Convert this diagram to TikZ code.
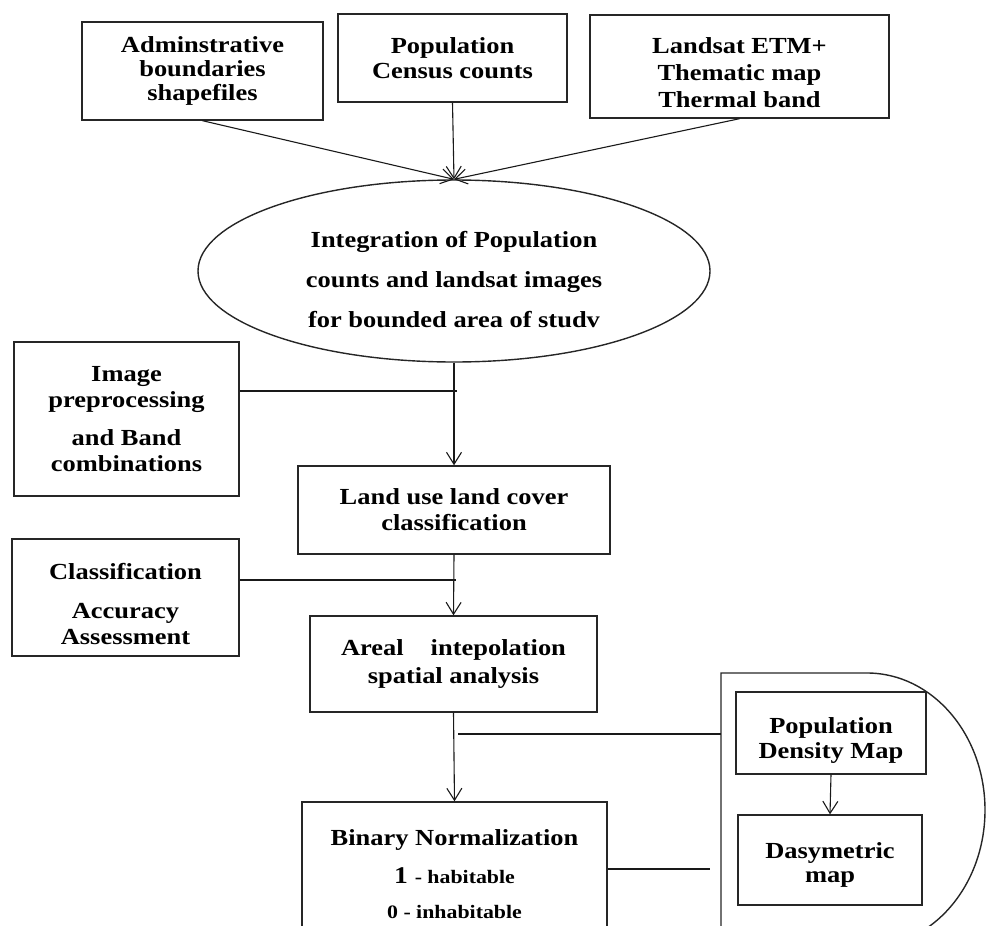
\documentclass[tikz,border=0pt]{standalone}
\usepackage{fontspec}
\setmainfont{Liberation Serif}[FakeStretch=1.15]
\usetikzlibrary{shapes.geometric,arrows.meta}
\newcommand{\hstrut}[1]{\rule{0pt}{#1pt}}
\begin{document}
\begin{tikzpicture}[x=1pt,y=-1pt,
  box/.style={draw=black!85, line width=1.4pt, rectangle, align=center, inner sep=0pt, font=\bfseries\fontsize{23}{25}\selectfont},
  oval/.style={draw=black!85, line width=1.4pt, ellipse, align=center, inner sep=0pt, font=\bfseries\fontsize{23}{40}\selectfont},
  conn/.style={draw=black!90, line width=1.1pt},
  arr/.style={conn, -{Straight Barb[length=12pt,width=15pt]}}]
\useasboundingbox (0,0) rectangle (986,926);
\clip (0,0) rectangle (986,926);

% top row
\node[box, minimum width=241pt, minimum height=98pt, font=\bfseries\fontsize{23}{24}\selectfont] (admin) at (202.5,71) {Adminstrative\\boundaries\\shapefiles};
\node[box, minimum width=229pt, minimum height=88pt] (census) at (452.5,58) {Population\\Census counts};
\node[box, minimum width=299pt, minimum height=103pt, font=\bfseries\fontsize{23}{27}\selectfont] (landsat) at (739.5,66.5) {\hstrut{28}Landsat ETM+\\Thematic map\\Thermal band};

% ellipse
\node[oval, minimum width=512pt, minimum height=182pt] (integ) at (454,271) {\hstrut{33}Integration of Population\\counts and landsat images\\for bounded area of studv};

% side and main boxes
\node[box, minimum width=225pt, minimum height=154pt, font=\bfseries\fontsize{23}{26}\selectfont] (prep) at (126.5,419) {Image\\preprocessing\\[12pt]and Band\\combinations};
\node[box, minimum width=312pt, minimum height=88pt, font=\bfseries\fontsize{23}{26}\selectfont] (landuse) at (454,510) {Land use land cover\\classification};
\node[box, minimum width=227pt, minimum height=117pt, font=\bfseries\fontsize{23}{26}\selectfont] (classif) at (125.5,597.5) {\hstrut{30}Classification\\[13pt]Accuracy\\Assessment};
\node[box, minimum width=287pt, minimum height=96pt, font=\bfseries\fontsize{23}{28}\selectfont] (areal) at (453.5,664) {Areal\hspace{27pt}intepolation\\spatial analysis};
\node[box, minimum width=305pt, minimum height=144pt, font=\bfseries\fontsize{23}{35}\selectfont] (binary) at (454.5,874) {Binary Normalization\\[3pt]{\fontsize{24}{35}\selectfont 1 }{\fontsize{19}{35}\selectfont - habitable}\\{\fontsize{19}{35}\selectfont 0 - inhabitable}};

% right container
\draw[draw=black!85, line width=1.4pt] (721,960) -- (721,673) -- (867,673) arc[start angle=-90, end angle=90, x radius=118, y radius=137];
\node[box, minimum width=190pt, minimum height=82pt] (popd) at (831,733) {\hstrut{30}Population\\Density Map};
\node[box, minimum width=184pt, minimum height=90pt, font=\bfseries\fontsize{23}{24}\selectfont] (dasy) at (830,860) {\hstrut{25}Dasymetric\\map};

% connectors
\draw[arr] (admin.south) -- (integ.north);
\draw[arr] (census.south) -- (integ.north);
\draw[arr] (landsat.south) -- (integ.north);
\draw[arr] (integ.south) -- (landuse.north);
\coordinate (j1) at (457,391);
\draw[conn] (prep.east |- j1) -- (j1);
\draw[arr] (landuse.south) -- (areal.north);
\coordinate (j2) at (456,580);
\draw[conn] (classif.east |- j2) -- (j2);
\draw[arr] (areal.south) -- (binary.north);
\coordinate (j3) at (458,734);
\coordinate (dleft) at (721,734);
\draw[conn] (j3) -- (dleft);
\coordinate (j4) at (710,869);
\draw[conn] (binary.east |- j4) -- (j4);
\draw[arr] (popd.south) -- (dasy.north);
\end{tikzpicture}
\end{document}
